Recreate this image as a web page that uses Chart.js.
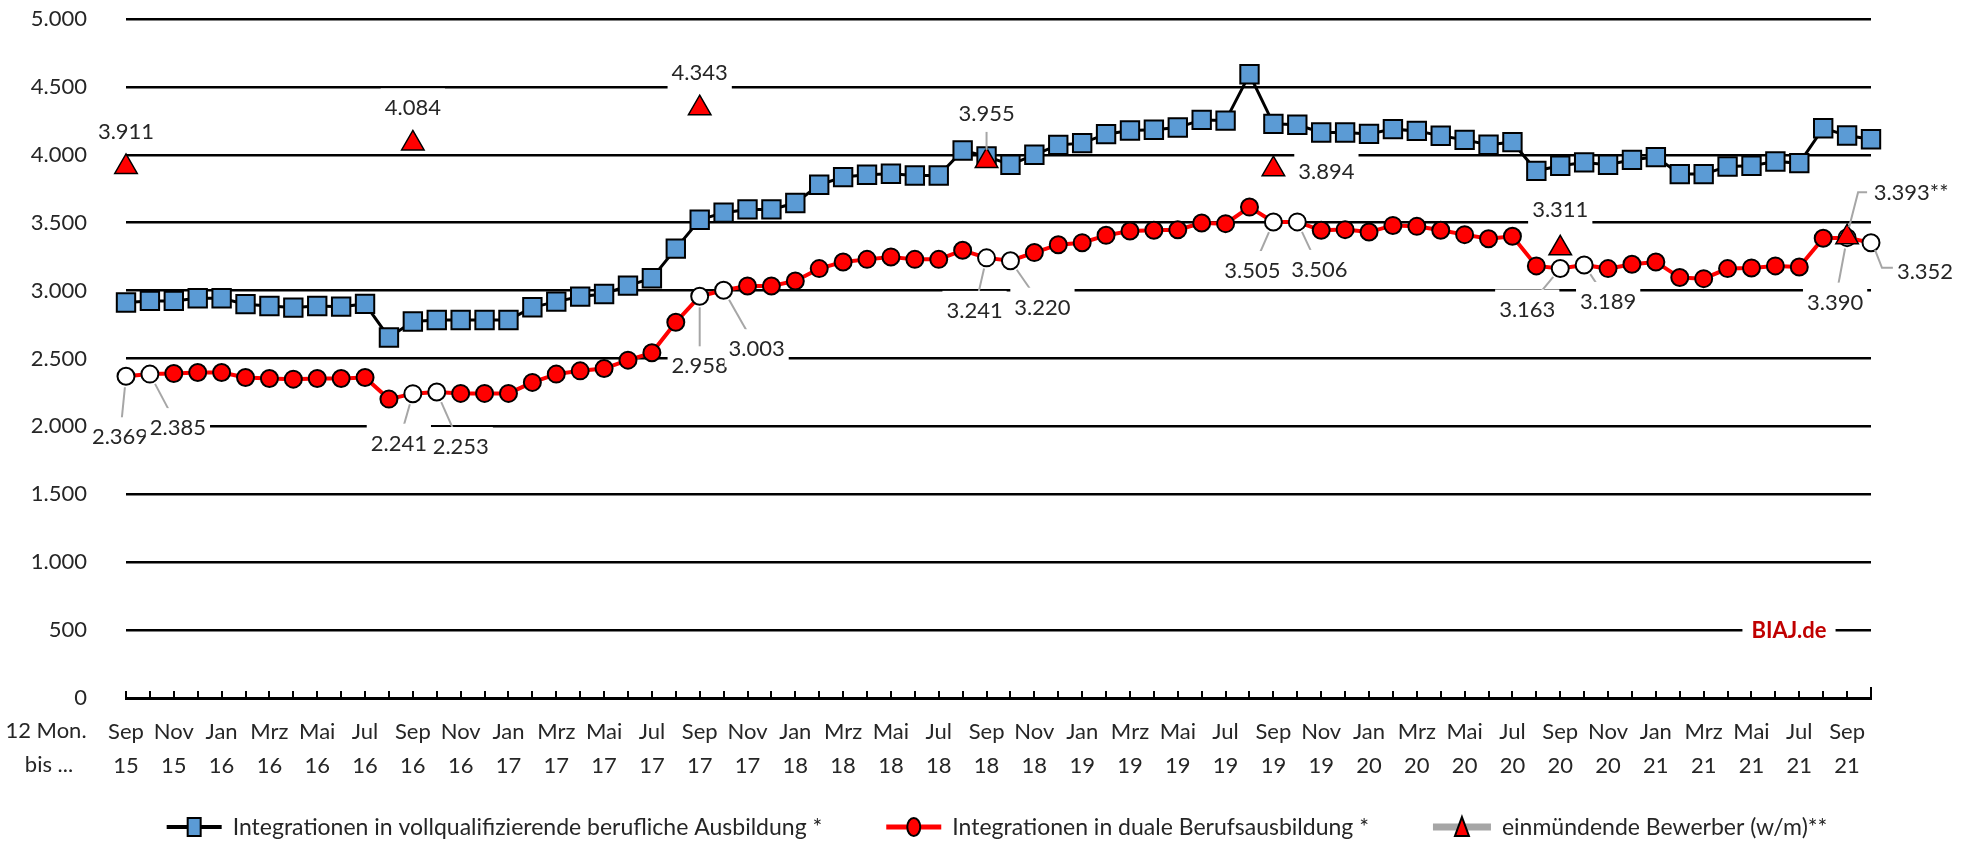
<!DOCTYPE html>
<html lang="de">
<head>
<meta charset="utf-8">
<title>Integrationen in Ausbildung – gleitende 12-Monats-Summen</title>
<script src="https://cdn.jsdelivr.net/npm/chart.js@4.4.1/dist/chart.umd.min.js"></script>
<style>
  html, body { margin: 0; padding: 0; background: #fff; }
  #wrap { width: 1980px; height: 843px; }
</style>
</head>
<body>
<div id="wrap"><canvas id="chart" width="1980" height="843"></canvas></div>
<script>
// months Sep 2015 .. Okt 2021, 12-month totals ending in that month
const monthNames = ['Jan', 'Feb', 'Mrz', 'Apr', 'Mai', 'Jun', 'Jul', 'Aug', 'Sep', 'Okt', 'Nov', 'Dez'];
const firstMonth = 8;   // Sep
const firstYear = 15;
const monthCount = 74;

const vollqualifizierend = [
  2912, 2924, 2924, 2944, 2944, 2900, 2887, 2875, 2887, 2882, 2902, 2655,
  2772, 2784, 2784, 2784, 2784, 2877, 2919, 2956, 2975, 3037, 3091, 3309,
  3522, 3574, 3598, 3598, 3645, 3779, 3836, 3853, 3860, 3848, 3848, 4032,
  3988, 3927, 4000, 4073, 4086, 4152, 4179, 4184, 4201, 4257, 4252, 4593,
  4228, 4221, 4164, 4164, 4154, 4189, 4176, 4140, 4110, 4074, 4093, 3882,
  3919, 3944, 3927, 3963, 3983, 3858, 3858, 3914, 3919, 3951, 3939, 4196,
  4142, 4115
];

const dual = [
  2369, 2385, 2390, 2397, 2397, 2360, 2353, 2348, 2353, 2353, 2360, 2201,
  2241, 2253, 2243, 2243, 2243, 2324, 2385, 2409, 2426, 2488, 2542, 2767,
  2958, 3003, 3034, 3034, 3071, 3162, 3211, 3230, 3248, 3230, 3230, 3297,
  3241, 3220, 3280, 3338, 3353, 3407, 3439, 3444, 3448, 3498, 3493, 3615,
  3505, 3506, 3444, 3449, 3431, 3480, 3473, 3444, 3412, 3382, 3400, 3182,
  3163, 3189, 3162, 3194, 3211, 3096, 3088, 3162, 3167, 3182, 3174, 3385,
  3390, 3352
];

// einmündende Bewerber, only reported for September
const bewerberSep = [3911, 4084, 4343, 3955, 3894, 3311, 3393];

// Sep/Okt values of the dual series are shown as open circles
const openDual = [0, 1, 12, 13, 24, 25, 36, 37, 48, 49, 60, 61, 72, 73];

const legendNames = [
  'Integrationen in vollqualifizierende berufliche Ausbildung *',
  'Integrationen in duale Berufsausbildung *',
  'einmündende Bewerber (w/m)**'
];

const months = [];
for (let k = 0; k < monthCount; k++) {
  const m = (firstMonth + k) % 12;
  const y = firstYear + Math.floor((firstMonth + k) / 12);
  months.push([monthNames[m], String(y)]);
}
const bewerber = months.map((m, i) => (m[0] === 'Sep' ? bewerberSep[i / 12] : null));

const FONT = 'Lato, "Liberation Sans", sans-serif';
const fmt = v => String(Math.round(v)).replace(/\B(?=(\d{3})+(?!\d))/g, '.');

// label placement: dataset, index, offset of the text centre, leader line
const labelSpots = [
  { ds: 2, i: 0, dx: 0, dy: -36 },
  { ds: 2, i: 12, dx: 0, dy: -36 },
  { ds: 2, i: 24, dx: 0, dy: -36 },
  { ds: 2, i: 36, dx: 0, dy: -48, lead: true },
  { ds: 2, i: 48, dx: 53, dy: 2 },
  { ds: 2, i: 60, dx: 0, dy: -39 },
  { ds: 1, i: 0, dx: -6, dy: 60, lead: true },
  { ds: 1, i: 1, dx: 28, dy: 53, lead: true },
  { ds: 1, i: 12, dx: -14, dy: 49, lead: true },
  { ds: 1, i: 13, dx: 24, dy: 54, lead: true },
  { ds: 1, i: 24, dx: 0, dy: 69, lead: true },
  { ds: 1, i: 25, dx: 33, dy: 58, lead: true },
  { ds: 1, i: 36, dx: -12, dy: 52, lead: true },
  { ds: 1, i: 37, dx: 32, dy: 46, lead: true },
  { ds: 1, i: 48, dx: -21, dy: 48, lead: true },
  { ds: 1, i: 49, dx: 22, dy: 47, lead: true },
  { ds: 1, i: 60, dx: -33, dy: 40, lead: true },
  { ds: 1, i: 61, dx: 24, dy: 36, lead: true },
  { ds: 1, i: 72, dx: -12, dy: 64, lead: true },
  { ds: 1, i: 73, dx: 54, dy: 28, lead: [[4, 7], [11, 25], [22, 25]] },
  { ds: 2, i: 72, dx: 64, dy: -45, suffix: '**', lead: [[2, -10], [11, -45], [20, -45]] }
];

// data labels with white boxes and grey leader lines
const pointLabels = {
  id: 'pointLabels',
  afterDatasetsDraw(chart) {
    const ctx = chart.ctx;
    ctx.save();
    ctx.font = '22px ' + FONT;
    const boxes = labelSpots.map(s => {
      const el = chart.getDatasetMeta(s.ds).data[s.i];
      const text = fmt(chart.data.datasets[s.ds].data[s.i]) + (s.suffix || '');
      const w = ctx.measureText(text).width;
      return { s, px: el.x, py: el.y, cx: el.x + s.dx, cy: el.y + s.dy, text, tw: w / 2, hw: w / 2 + 4, hh: 19 };
    });

    ctx.strokeStyle = '#a6a6a6';
    ctx.lineWidth = 2;
    boxes.forEach(b => {
      if (!b.s.lead) return;
      ctx.beginPath();
      if (Array.isArray(b.s.lead)) {
        b.s.lead.forEach(([x, y], k) => (k ? ctx.lineTo(b.px + x, b.py + y) : ctx.moveTo(b.px + x, b.py + y)));
      } else {
        const vx = b.px - b.cx, vy = b.py - b.cy;
        const len = Math.hypot(vx, vy);
        const sx = Math.abs(vx) > 0.1 ? (b.tw + 1) / Math.abs(vx) : Infinity;
        const sy = Math.abs(vy) > 0.1 ? 12 / Math.abs(vy) : Infinity;
        const s = Math.min(sx, sy);
        ctx.moveTo(b.px - vx / len * 11, b.py - vy / len * 11);
        ctx.lineTo(b.cx + vx * s, b.cy + vy * s);
      }
      ctx.stroke();
    });

    ctx.textAlign = 'center';
    ctx.textBaseline = 'middle';
    boxes.forEach(b => {
      ctx.fillStyle = '#fff';
      ctx.fillRect(b.cx - b.hw, b.cy - b.hh, b.hw * 2, b.hh * 2);
      ctx.fillStyle = '#262626';
      ctx.fillText(b.text, b.cx, b.cy + 1);
    });

    // source mark on the 500 line
    const y500 = chart.scales.y.getPixelForValue(500);
    const bx = chart.chartArea.right - 82;
    ctx.font = 'bold 22px ' + FONT;
    const bw = ctx.measureText('BIAJ.de').width;
    ctx.fillStyle = '#fff';
    ctx.fillRect(bx - bw / 2 - 9, y500 - 14, bw + 18, 28);
    ctx.fillStyle = '#c00000';
    ctx.fillText('BIAJ.de', bx, y500 + 1);
    ctx.restore();
  }
};

// short upward ticks on the category axis
const axisTicks = {
  id: 'axisTicks',
  beforeDatasetsDraw(chart) {
    const { ctx, chartArea, scales: { x } } = chart;
    ctx.save();
    ctx.strokeStyle = '#000';
    ctx.lineWidth = 2;
    ctx.beginPath();
    for (let i = 0; i < monthCount; i++) {
      const px = Math.round(x.getPixelForValue(i));
      const len = i === monthCount - 1 ? 11 : 7;
      ctx.moveTo(px, chartArea.bottom);
      ctx.lineTo(px, chartArea.bottom - len);
    }
    ctx.stroke();
    ctx.restore();
  }
};

function drawSymbol(ctx, x, y, k) {
  ctx.save();
  ctx.lineCap = 'butt';
  if (k === 0) {
    ctx.strokeStyle = '#000'; ctx.lineWidth = 4;
    ctx.beginPath(); ctx.moveTo(x, y); ctx.lineTo(x + 55, y); ctx.stroke();
    ctx.fillStyle = '#5b9bd5'; ctx.lineWidth = 2;
    ctx.fillRect(x + 21, y - 9, 13, 18); ctx.strokeRect(x + 21, y - 9, 13, 18);
  } else if (k === 1) {
    ctx.strokeStyle = '#ff0000'; ctx.lineWidth = 5;
    ctx.beginPath(); ctx.moveTo(x, y); ctx.lineTo(x + 55, y); ctx.stroke();
    ctx.fillStyle = '#ff0000'; ctx.strokeStyle = '#000'; ctx.lineWidth = 2;
    ctx.beginPath(); ctx.ellipse(x + 27.5, y, 6.5, 9, 0, 0, Math.PI * 2); ctx.fill(); ctx.stroke();
  } else {
    ctx.strokeStyle = '#a6a6a6'; ctx.lineWidth = 7;
    ctx.beginPath(); ctx.moveTo(x, y); ctx.lineTo(x + 58, y); ctx.stroke();
    ctx.fillStyle = '#ff0000'; ctx.strokeStyle = '#000'; ctx.lineWidth = 2;
    ctx.beginPath(); ctx.moveTo(x + 29, y - 10); ctx.lineTo(x + 36, y + 9); ctx.lineTo(x + 22, y + 9);
    ctx.closePath(); ctx.fill(); ctx.stroke();
  }
  ctx.restore();
}

// legend row and the "12 Mon. / bis ..." caption
const bottomText = {
  id: 'bottomText',
  afterDraw(chart) {
    const ctx = chart.ctx;
    ctx.save();
    ctx.font = '22px ' + FONT;
    ctx.fillStyle = '#262626';
    ctx.textBaseline = 'middle';
    ctx.textAlign = 'center';
    const base = chart.chartArea.bottom;
    ctx.fillText('12 Mon.', 46, base + 33);
    ctx.fillText('bis ...', 49, base + 67);

    ctx.font = '23px ' + FONT;
    ctx.textAlign = 'left';
    const symW = [55, 55, 58];
    const widths = legendNames.map((t, k) => symW[k] + 11 + ctx.measureText(t).width);
    const gap = 64;
    const total = widths.reduce((a, b) => a + b, 0) + gap * 2;
    let x = 997 - total / 2;
    const y = 827;
    legendNames.forEach((t, k) => {
      drawSymbol(ctx, x, y, k);
      ctx.fillStyle = '#262626';
      ctx.fillText(t, x + symW[k] + 11, y + 1);
      x += widths[k] + gap;
    });
    ctx.restore();
  }
};

new Chart(document.getElementById('chart'), {
  type: 'line',
  data: {
    labels: months,
    datasets: [
      {
        label: legendNames[0],
        data: vollqualifizierend,
        order: 3,
        borderColor: '#000',
        borderWidth: 3,
        pointStyle: 'rect',
        pointRadius: 13,
        pointBackgroundColor: '#5b9bd5',
        pointBorderColor: '#000',
        pointBorderWidth: 2,
        tension: 0
      },
      {
        label: legendNames[1],
        data: dual,
        order: 2,
        borderColor: '#ff0000',
        borderWidth: 4,
        pointStyle: 'circle',
        pointRadius: 8.5,
        pointBackgroundColor: dual.map((v, i) => (openDual.includes(i) ? '#fff' : '#ff0000')),
        pointBorderColor: '#000',
        pointBorderWidth: 2,
        tension: 0
      },
      {
        label: legendNames[2],
        data: bewerber,
        order: 1,
        showLine: false,
        spanGaps: false,
        borderColor: '#a6a6a6',
        pointStyle: 'triangle',
        pointRadius: 13,
        pointBackgroundColor: '#ff0000',
        pointBorderColor: '#000',
        pointBorderWidth: 1.5
      }
    ]
  },
  options: {
    responsive: false,
    animation: false,
    events: [],
    layout: { padding: { top: 19, right: 109, bottom: 55, left: 0 } },
    plugins: {
      legend: { display: false },
      tooltip: { enabled: false }
    },
    scales: {
      x: {
        offset: false,
        grid: { display: false },
        border: { display: true, color: '#000', width: 3 },
        afterFit: s => { s.height = 90; },
        ticks: {
          autoSkip: false,
          maxRotation: 0,
          padding: 9,
          color: '#262626',
          font: { family: FONT, size: 22, lineHeight: 1.55 },
          callback: (v, i) => (i % 2 === 0 ? months[i] : '')
        }
      },
      y: {
        min: 0,
        max: 5000,
        afterFit: s => { s.width = 126; s.paddingTop = 0; s.paddingBottom = 0; },
        border: { display: false },
        grid: { color: '#000', lineWidth: 2.5, drawTicks: false },
        ticks: {
          stepSize: 500,
          padding: 39,
          color: '#262626',
          font: { family: FONT, size: 22 },
          callback: v => fmt(v)
        }
      }
    }
  },
  plugins: [axisTicks, pointLabels, bottomText]
});
</script>
</body>
</html>
